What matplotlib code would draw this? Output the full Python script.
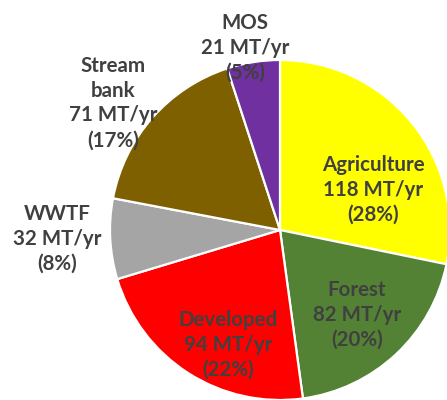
import matplotlib.pyplot as plt

# sediment load by source, MT/yr
sources = ["Agriculture", "Forest", "Developed", "WWTF", "Stream bank", "MOS"]
loads = [118, 82, 94, 32, 71, 21]
shares = [28, 20, 22, 8, 17, 5]
colors = ["#FFFF00", "#548235", "#FF0000", "#A5A5A5", "#7F6000", "#7030A0"]

fig = plt.figure(figsize=(4.47, 4.0), dpi=100)
ax = fig.add_axes([0, 0, 1, 1])

ax.pie(loads, colors=colors, startangle=90, counterclock=False,
       center=(280, 170), radius=170,
       wedgeprops=dict(edgecolor="white", linewidth=1.6))

ax.set_xlim(0, 447)
ax.set_ylim(0, 400)
ax.set_aspect("equal")
ax.axis("off")

# label spots (pixel coords, y from top)
label_xy = {
    "Agriculture": (373, 190),
    "Forest": (357, 315),
    "Developed": (228, 345),
    "WWTF": (57, 239),
    "Stream bank": (113, 103),
    "MOS": (245, 48),
}
for name, val, pct in zip(sources, loads, shares):
    x, y = label_xy[name]
    txt = name.replace(" ", "\n") + "\n%d MT/yr\n(%d%%)" % (val, pct)
    ax.text(x, 400 - y, txt, ha="center", va="center", fontsize=14.8,
            family="Lato", fontweight="bold", color="#404040",
            linespacing=1.3)

fig.savefig("out.png", dpi=100)
